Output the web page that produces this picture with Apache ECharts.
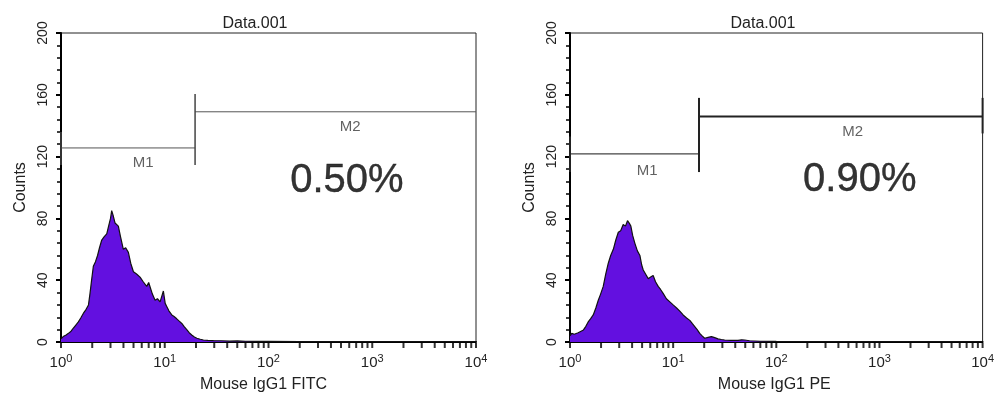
<!DOCTYPE html>
<html><head><meta charset="utf-8">
<script src="https://cdn.jsdelivr.net/npm/echarts@6/dist/echarts.min.js"></script>
<style>html,body{margin:0;padding:0;background:#fff}#c{width:997px;height:403px}</style>
</head><body><div id="c"></div>
<script>
// ---- data ----
const panelTitles = ['Data.001', 'Data.001'];
const xAxisNames = ['Mouse IgG1 FITC', 'Mouse IgG1 PE'];
const percentLabels = ['0.50%', '0.90%'];
const yTicks = [0, 40, 80, 120, 160, 200];
const xMajorTicks = [1, 10, 100, 1000, 10000];
const xMajorExp = ['0', '1', '2', '3', '4'];
const xTickMarks = [1,2,3,4,5,6,7,8,9,10,20,30,40,50,60,70,80,90,100,200,300,400,500,600,700,800,900,1000,2000,3000,4000,5000,6000,7000,8000,9000,10000];

const leftChannels = [1.00,1.05,1.12,1.18,1.25,1.31,1.39,1.47,1.55,1.64,1.74,1.84,1.90,1.98,2.05,2.15,2.25,2.35,2.47,2.60,2.76,2.90,3.00,3.08,3.18,3.32,3.45,3.57,3.75,3.99,4.20,4.46,4.70,4.99,5.35,5.78,6.20,6.70,7.00,7.22,7.60,8.07,8.50,9.02,9.40,9.70,9.86,10.1,10.45,11.0,11.7,12.3,13.05,13.8,14.6,15.4,16.3,17.2,18.2,19.3,20.4,22,23.6,26,29.5,35,42,50,60,80,100,200,500,1000,5000,10000];
const leftCounts   = [2,3.5,4.5,5.6,7,8.8,11,13,15.5,18.5,21,24,31,41,49,52,56,61,66,68,70,76,80,85,82,77,76,75,68,60,61,58,51,45.5,44,42,39,36,38.5,38,31,27,28,26,27,33,34,25,23,20,17.5,16.5,15,13.5,12,10,8,6,4.5,3.2,2.4,1.8,1.3,1.1,0.9,0.8,0.6,0.7,0.5,0.4,0.4,0.3,0.3,0.3,0.3,0.3];

const rightChannels = [1.00,1.04,1.10,1.20,1.28,1.35,1.42,1.50,1.58,1.68,1.78,1.88,1.98,2.10,2.22,2.35,2.48,2.63,2.78,2.94,3.10,3.28,3.45,3.61,3.75,3.89,4.05,4.25,4.50,4.76,4.95,5.13,5.40,5.73,6.05,6.40,6.75,7.16,7.55,8.00,8.60,9.29,10.0,10.8,11.6,12.5,13.5,14.5,15.3,16.2,17.1,18.1,19.1,20.2,21.8,23.5,25.3,27.2,29.3,31.6,36,42.6,46,49.4,55,70,100,200,1000,10000];
const rightCounts   = [4,5.6,5,6,7,7.8,10,13,15,17.5,22,27,31,36,44,51,56,60,66,71,72,76,75,78.5,77,75,69,64,59,56,50,46.6,44,41,42,43,39,36,34,31.5,28,26,24,22,20,17.5,15.5,14,12,10,8,5.6,4,2.4,3,3.5,2.8,2,1.6,1.3,1.1,1,1.4,1.3,0.8,0.5,0.4,0.3,0.3,0.3];

// gates: [x1, x2, y]
const leftM1 = [1, 19.6, 125.6];
const leftM2 = [19.6, 10000, 149];
const rightM1 = [1, 17.8, 121.7];
const rightM2 = [17.8, 10000, 146];
// gate end bars: [x, yLow, yHigh]
const leftBars = [[1, 114.6, 136], [19.6, 114.6, 160.5]];
const rightBars = [[1, 110, 133], [17.8, 110, 158], [10000, 135, 158]];
// label anchors [x, y]
const leftLabelPos = {M1: [6.2, 116], M2: [612, 139], pct: [570, 104]};
const rightLabelPos = {M1: [5.6, 111], M2: [550, 136], pct: [645, 105]};

// ---- chart ----
const chart = echarts.init(document.getElementById('c'));
const grids = [
  {left: 61, top: 33, width: 415, height: 309},
  {left: 570, top: 33, width: 413, height: 309}
];
const textColor = '#222';
const narrow = 'Liberation Sans Narrow, Liberation Sans, Arial, sans-serif';

function makeX(i) {
  return {
    type: 'log', logBase: 10, gridIndex: i, min: 1, max: 10000, position: 'bottom',
    name: xAxisNames[i], nameLocation: 'middle', nameGap: 35,
    nameTextStyle: {fontSize: 16, color: textColor, fontFamily: 'Liberation Sans, Arial',
      padding: i === 0 ? [0, 10, 0, 0] : [0, 4, 0, 0]},
    axisLine: {show: true, onZero: false, lineStyle: {color: '#000', width: 2}},
    axisTick: {show: false},
    axisLabel: {
      margin: 11,
      formatter: function (v) {
        const k = xMajorTicks.indexOf(v);
        return '{b|10}{s|' + (k >= 0 ? xMajorExp[k] : '') + '}';
      },
      rich: {
        b: {fontSize: 15, color: textColor, fontFamily: 'Liberation Sans, Arial'},
        s: {fontSize: 11, color: textColor, fontFamily: 'Liberation Sans, Arial', padding: [0, 0, 9, 0]}
      }
    },
    splitLine: {show: false}
  };
}
function makeY(i) {
  return {
    type: 'value', gridIndex: i, min: 0, max: 200, interval: 40,
    name: 'Counts', nameLocation: 'middle', nameGap: 32,
    nameTextStyle: {fontSize: 16, color: textColor, fontFamily: 'Liberation Sans, Arial'},
    axisLine: {show: true, onZero: false, lineStyle: {color: '#000', width: 2}},
    axisTick: {show: true, length: 5, lineStyle: {color: '#000', width: 2}},
    minorTick: {show: true, splitNumber: 5, length: 4, lineStyle: {color: '#000', width: 1.5}},
    axisLabel: {rotate: 90, margin: 11, fontSize: 14, color: textColor, fontFamily: narrow},
    splitLine: {show: false}
  };
}

function histSeries(i, ch, cnt) {
  return {
    type: 'line', xAxisIndex: i, yAxisIndex: i, symbol: 'none', smooth: false,
    data: ch.map((x, k) => [x, cnt[k]]),
    lineStyle: {color: '#111', width: 1.2},
    areaStyle: {color: '#6310e0', opacity: 1},
    z: 3
  };
}
// x tick marks drawn below the axis line at count 0
function tickSeries(i) {
  return {
    type: 'scatter', xAxisIndex: i, yAxisIndex: i, clip: false, silent: true,
    symbol: 'rect', symbolSize: [2, 5], symbolOffset: [0, 3.5],
    itemStyle: {color: '#000'},
    data: xTickMarks.map(v => [v, 0]), z: 6
  };
}
function gateSeries(i, m, w, color) {
  return {
    type: 'line', xAxisIndex: i, yAxisIndex: i, symbol: 'none',
    data: [[m[0], m[2]], [m[1], m[2]]],
    lineStyle: {color: color, width: w}, z: 4
  };
}
function barSeries(i, bars, w, color) {
  return bars.map(b => ({
    type: 'line', xAxisIndex: i, yAxisIndex: i, symbol: 'none',
    data: [[b[0], b[1]], [b[0], b[2]]],
    lineStyle: {color: color, width: w}, z: 4
  }));
}
function textSeries(i, pos, pct) {
  const base = {position: [0, 0], align: 'center', verticalAlign: 'middle', fontFamily: 'Liberation Sans, Arial'};
  const pts = [
    {value: pos.M1, name: 'M1', label: Object.assign({}, base, {fontSize: 15, color: '#3a3a3a', textBorderWidth: 0})},
    {value: pos.M2, name: 'M2', label: Object.assign({}, base, {fontSize: 15, color: '#3a3a3a', textBorderWidth: 0})},
    {value: pos.pct, name: pct, label: Object.assign({}, base, {fontSize: 40, color: '#000', textBorderColor: '#000', textBorderWidth: 0.4})}
  ];
  return {
    type: 'scatter', xAxisIndex: i, yAxisIndex: i, symbolSize: 0,
    itemStyle: {color: '#000'},
    label: {show: true, formatter: p => p.name},
    data: pts, z: 5, silent: true
  };
}

const option = {
  animation: false,
  backgroundColor: '#fff',
  title: [
    {text: panelTitles[0], left: 250, top: 11, textAlign: 'center',
      textStyle: {fontSize: 16, fontWeight: 'normal', color: textColor, fontFamily: 'Liberation Sans, Arial'}},
    {text: panelTitles[1], left: 758, top: 11, textAlign: 'center',
      textStyle: {fontSize: 16, fontWeight: 'normal', color: textColor, fontFamily: 'Liberation Sans, Arial'}}
  ],
  grid: grids.map(g => Object.assign({show: true, borderColor: '#222', borderWidth: 1}, g)),
  xAxis: [makeX(0), makeX(1)],
  yAxis: [makeY(0), makeY(1)],
  series: [
    histSeries(0, leftChannels, leftCounts),
    histSeries(1, rightChannels, rightCounts),
    tickSeries(0),
    tickSeries(1),
    gateSeries(0, leftM1, 1, '#555'),
    gateSeries(0, leftM2, 1, '#555'),
    gateSeries(1, rightM1, 1.3, '#444'),
    gateSeries(1, rightM2, 2, '#222'),
    ...barSeries(0, leftBars, 1.5, '#444'),
    ...barSeries(1, rightBars, 2, '#222'),
    textSeries(0, leftLabelPos, percentLabels[0]),
    textSeries(1, rightLabelPos, percentLabels[1])
  ]
};
chart.setOption(option);
</script></body></html>
